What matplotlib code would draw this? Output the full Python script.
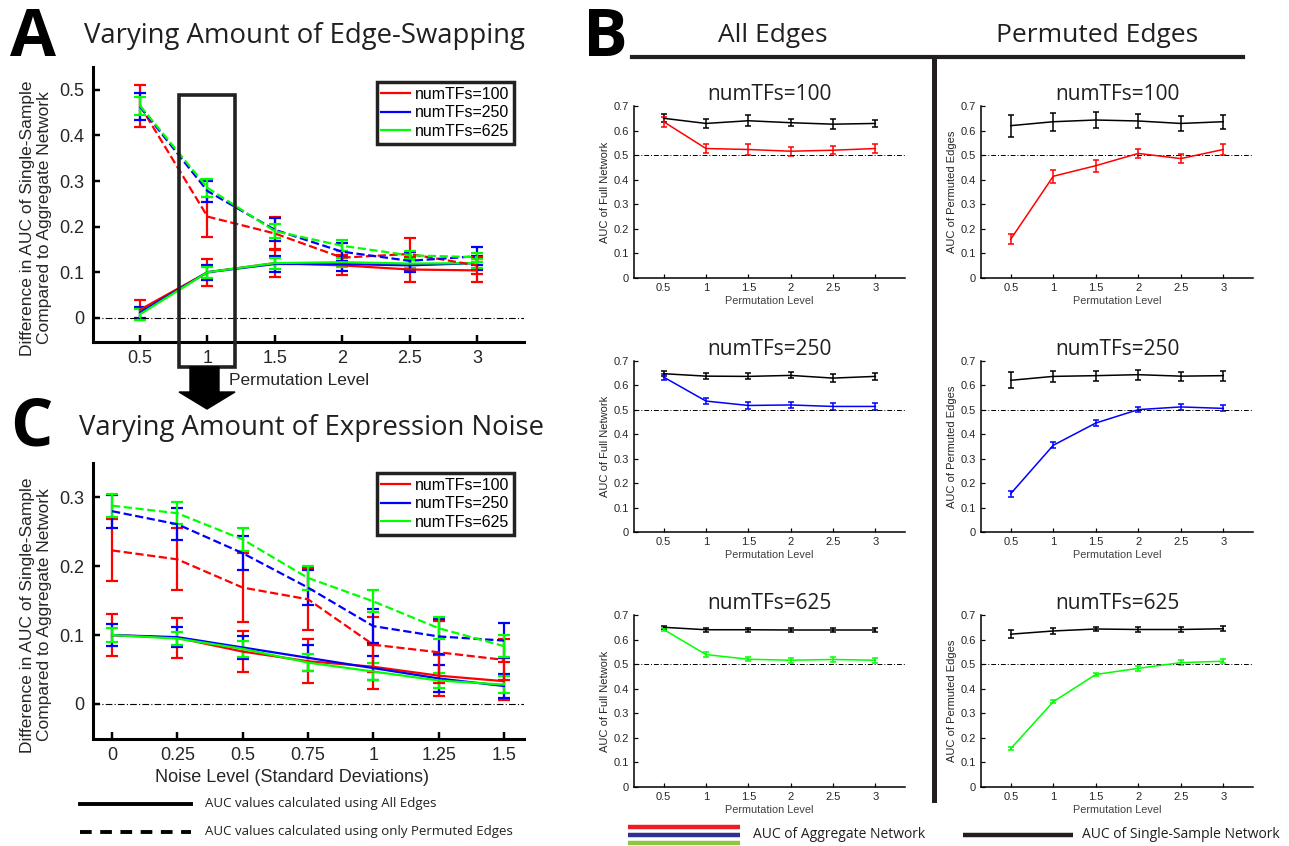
import numpy as np
import matplotlib
matplotlib.use("Agg")
import matplotlib.pyplot as plt
from matplotlib.patches import Rectangle, Polygon
from matplotlib.lines import Line2D

plt.rcParams['font.family'] = ['Liberation Sans', 'DejaVu Sans']

W, H = 1289, 846

# ---- data ----
perm_levels = [0.5, 1, 1.5, 2, 2.5, 3]
noise_levels = [0, 0.25, 0.5, 0.75, 1, 1.25, 1.5]
tf_labels = ['numTFs=100', 'numTFs=250', 'numTFs=625']

# panel A: difference in AUC vs permutation level
a_all_100 = [0.018, 0.100, 0.120, 0.115, 0.106, 0.104]
a_all_100_err = [0.022, 0.030, 0.030, 0.022, 0.028, 0.026]
a_all_250 = [0.012, 0.100, 0.118, 0.118, 0.115, 0.120]
a_all_250_err = [0.012, 0.016, 0.018, 0.015, 0.014, 0.015]
a_all_625 = [0.008, 0.100, 0.120, 0.122, 0.119, 0.120]
a_all_625_err = [0.012, 0.012, 0.012, 0.010, 0.010, 0.010]
a_perm_100 = [0.465, 0.222, 0.185, 0.132, 0.140, 0.115]
a_perm_100_err = [0.046, 0.044, 0.037, 0.015, 0.035, 0.018]
a_perm_250 = [0.463, 0.278, 0.193, 0.145, 0.125, 0.135]
a_perm_250_err = [0.030, 0.023, 0.025, 0.020, 0.020, 0.020]
a_perm_625 = [0.465, 0.285, 0.190, 0.158, 0.137, 0.133]
a_perm_625_err = [0.020, 0.020, 0.015, 0.012, 0.010, 0.010]

# panel C: difference in AUC vs noise level
c_all_100 = [0.100, 0.096, 0.076, 0.062, 0.054, 0.041, 0.033]
c_all_100_err = [0.030, 0.029, 0.030, 0.032, 0.032, 0.030, 0.028]
c_all_250 = [0.100, 0.097, 0.082, 0.067, 0.052, 0.037, 0.026]
c_all_250_err = [0.016, 0.015, 0.017, 0.019, 0.018, 0.019, 0.018]
c_all_625 = [0.100, 0.095, 0.080, 0.060, 0.047, 0.034, 0.028]
c_all_625_err = [0.010, 0.010, 0.012, 0.012, 0.012, 0.011, 0.012]
c_perm_100 = [0.223, 0.210, 0.169, 0.152, 0.086, 0.075, 0.064]
c_perm_100_err = [0.045, 0.045, 0.050, 0.045, 0.040, 0.045, 0.030]
c_perm_250 = [0.280, 0.261, 0.219, 0.169, 0.113, 0.098, 0.092]
c_perm_250_err = [0.024, 0.023, 0.025, 0.025, 0.025, 0.025, 0.025]
c_perm_625 = [0.288, 0.277, 0.239, 0.183, 0.149, 0.110, 0.084]
c_perm_625_err = [0.017, 0.016, 0.017, 0.017, 0.016, 0.016, 0.016]

# panel B: AUC values (single-sample = black, aggregate = coloured)
b_full_single_100 = [0.650, 0.629, 0.640, 0.632, 0.626, 0.629]
b_full_single_100_err = [0.017, 0.020, 0.022, 0.015, 0.020, 0.015]
b_full_agg_100 = [0.636, 0.527, 0.523, 0.516, 0.520, 0.527]
b_full_agg_100_err = [0.020, 0.020, 0.022, 0.018, 0.017, 0.020]
b_perm_single_100 = [0.620, 0.636, 0.643, 0.639, 0.629, 0.636]
b_perm_single_100_err = [0.045, 0.037, 0.033, 0.030, 0.030, 0.028]
b_perm_agg_100 = [0.158, 0.414, 0.457, 0.507, 0.486, 0.523]
b_perm_agg_100_err = [0.020, 0.027, 0.025, 0.020, 0.018, 0.022]

b_full_single_250 = [0.648, 0.638, 0.637, 0.641, 0.630, 0.637]
b_full_single_250_err = [0.010, 0.012, 0.012, 0.012, 0.015, 0.013]
b_full_agg_250 = [0.634, 0.536, 0.518, 0.520, 0.514, 0.514]
b_full_agg_250_err = [0.012, 0.013, 0.015, 0.012, 0.013, 0.013]
b_perm_single_250 = [0.621, 0.637, 0.640, 0.644, 0.638, 0.640]
b_perm_single_250_err = [0.032, 0.022, 0.020, 0.020, 0.018, 0.020]
b_perm_agg_250 = [0.157, 0.355, 0.446, 0.501, 0.512, 0.506]
b_perm_agg_250_err = [0.012, 0.013, 0.013, 0.010, 0.012, 0.012]

b_full_single_625 = [0.650, 0.640, 0.640, 0.639, 0.639, 0.639]
b_full_single_625_err = [0.007, 0.008, 0.008, 0.009, 0.009, 0.009]
b_full_agg_625 = [0.641, 0.539, 0.520, 0.516, 0.519, 0.516]
b_full_agg_625_err = [0.007, 0.009, 0.009, 0.010, 0.009, 0.010]
b_perm_single_625 = [0.622, 0.635, 0.643, 0.641, 0.641, 0.644]
b_perm_single_625_err = [0.017, 0.013, 0.010, 0.012, 0.010, 0.011]
b_perm_agg_625 = [0.156, 0.347, 0.458, 0.483, 0.506, 0.512]
b_perm_agg_625_err = [0.007, 0.007, 0.007, 0.009, 0.009, 0.009]

colors = ['#ff0000', '#0000ff', '#00ff00']
TITLE_FONT = ['Open Sans', 'DejaVu Sans']
TICK_COLOR = '#262626'


def px_axes(fig, l, t, r, b):
    return fig.add_axes([l / W, 1 - b / H, (r - l) / W, (b - t) / H])


def ftext(fig, x, y, s, **kw):
    kw.setdefault('ha', 'center')
    kw.setdefault('va', 'center')
    return fig.text(x / W, 1 - y / H, s, **kw)


def style_axes(ax, spine_lw, tick_size, tick_len, pad=3.5):
    for side in ['top', 'right']:
        ax.spines[side].set_visible(False)
    for side in ['left', 'bottom']:
        ax.spines[side].set_linewidth(spine_lw)
    ax.tick_params(direction='in', length=tick_len, width=spine_lw * 0.8,
                   labelsize=tick_size, labelcolor=TICK_COLOR, pad=pad)


def diff_panel(ax, x, series, xlim, ylim, yticks):
    for (vals, err, c, ls) in series:
        ax.errorbar(x, vals, yerr=err, color=c, ls=ls, lw=1.6, elinewidth=1.6,
                    capsize=4, capthick=1.6)
    ax.axhline(0, color='k', lw=0.8, dashes=(6, 2, 1, 2))
    ax.set_xlim(*xlim)
    ax.set_ylim(*ylim)
    ax.set_yticks(yticks)
    ax.set_yticklabels(['0'] + ['%.1f' % v for v in yticks[1:]])
    style_axes(ax, 2.2, 13, 5, pad=6)
    handles = [Line2D([], [], color=c, lw=1.6) for c in colors]
    leg = ax.legend(handles, tf_labels, loc='upper right', fontsize=11.5,
                    handlelength=1.8, handletextpad=0.3, labelspacing=0.22,
                    borderpad=0.3, fancybox=False, framealpha=1,
                    bbox_to_anchor=(1.0, 1.0), borderaxespad=0.0)
    leg.get_frame().set_edgecolor('#222222')
    leg.get_frame().set_linewidth(2.5)
    return leg


fig = plt.figure(figsize=(W / 100, H / 100), dpi=100)

# ---------------- panel A ----------------
axA = px_axes(fig, 93, 67, 524, 342)
seriesA = [
    (a_all_100, a_all_100_err, colors[0], '-'),
    (a_all_250, a_all_250_err, colors[1], '-'),
    (a_all_625, a_all_625_err, colors[2], '-'),
    (a_perm_100, a_perm_100_err, colors[0], '--'),
    (a_perm_250, a_perm_250_err, colors[1], '--'),
    (a_perm_625, a_perm_625_err, colors[2], '--'),
]
legA = diff_panel(axA, perm_levels, seriesA, (0.15, 3.35), (-0.053, 0.55),
                  [0, 0.1, 0.2, 0.3, 0.4, 0.5])
axA.set_xticks(perm_levels)
axA.set_xticklabels(['0.5', '1', '1.5', '2', '2.5', '3'])
legA.set_bbox_to_anchor((514 / W, 1 - 82 / H), transform=fig.transFigure)

ftext(fig, 10, 38, 'A', fontsize=48, fontweight='bold', family=TITLE_FONT, ha='left')
ftext(fig, 84, 36, 'Varying Amount of Edge-Swapping', fontsize=19.8, family=TITLE_FONT,
      ha='left', color='#231f20')
ylab = 'Difference in AUC of Single-Sample\nCompared to Aggregate Network'
ftext(fig, 36, 218, ylab, fontsize=12.5, rotation=90, color=TICK_COLOR)
ftext(fig, 299, 380, 'Permutation Level', fontsize=12.5, color=TICK_COLOR)

# highlight box around permutation level 1 and arrow to panel C
fig.add_artist(Rectangle((179 / W, 1 - 367 / H), 56 / W, 272 / H, fill=False,
                         lw=2.6, ec='#222222', transform=fig.transFigure))
arrow = [(190, 367), (219, 367), (219, 392), (235, 392), (207, 409), (179, 392), (190, 392)]
fig.add_artist(Polygon([(x / W, 1 - y / H) for x, y in arrow], closed=True,
                       fc='black', ec='black', transform=fig.transFigure))

# ---------------- panel C ----------------
axC = px_axes(fig, 93, 463, 524, 739)
seriesC = [
    (c_all_100, c_all_100_err, colors[0], '-'),
    (c_all_250, c_all_250_err, colors[1], '-'),
    (c_all_625, c_all_625_err, colors[2], '-'),
    (c_perm_100, c_perm_100_err, colors[0], '--'),
    (c_perm_250, c_perm_250_err, colors[1], '--'),
    (c_perm_625, c_perm_625_err, colors[2], '--'),
]
legC = diff_panel(axC, noise_levels, seriesC, (-0.073, 1.577), (-0.051, 0.35),
                  [0, 0.1, 0.2, 0.3])
axC.set_xticks(noise_levels)
axC.set_xticklabels(['0', '0.25', '0.5', '0.75', '1', '1.25', '1.5'])
legC.set_bbox_to_anchor((514 / W, 1 - 473 / H), transform=fig.transFigure)

ftext(fig, 10, 428, 'C', fontsize=48, fontweight='bold', family=TITLE_FONT, ha='left')
ftext(fig, 79, 428, 'Varying Amount of Expression Noise', fontsize=19.8, family=TITLE_FONT,
      ha='left', color='#231f20')
ftext(fig, 36, 615, ylab, fontsize=12.5, rotation=90, color=TICK_COLOR)
ftext(fig, 292, 777, 'Noise Level (Standard Deviations)', fontsize=13, color=TICK_COLOR)

fig.add_artist(Line2D([80 / W, 191 / W], [1 - 804 / H] * 2, color='black', lw=2.8))
fig.add_artist(Line2D([80 / W, 191 / W], [1 - 832 / H] * 2, color='black', lw=2.8,
                      dashes=(3, 2.2)))
ftext(fig, 205, 803, 'AUC values calculated using All Edges', fontsize=9.5,
      family=TITLE_FONT, ha='left', color='#231f20')
ftext(fig, 205, 831, 'AUC values calculated using only Permuted Edges', fontsize=9.5,
      family=TITLE_FONT, ha='left', color='#231f20')

# ---------------- panel B ----------------
ftext(fig, 583, 38, 'B', fontsize=48, fontweight='bold', family=TITLE_FONT, ha='left')
ftext(fig, 773, 36, 'All Edges', fontsize=19, family=TITLE_FONT, color='#231f20')
ftext(fig, 1097, 36, 'Permuted Edges', fontsize=19, family=TITLE_FONT, color='#231f20')
fig.add_artist(Line2D([632 / W, 1243 / W], [1 - 57 / H] * 2, color='#231f20', lw=3))
fig.add_artist(Line2D([934 / W, 934 / W], [1 - 57 / H, 1 - 800 / H], color='#231f20', lw=3.6))

rows = [(106, 278), (361, 532), (615, 787)]
cols = [(634, 905), (981, 1253)]
b_left = [
    (b_full_single_100, b_full_single_100_err, b_full_agg_100, b_full_agg_100_err),
    (b_full_single_250, b_full_single_250_err, b_full_agg_250, b_full_agg_250_err),
    (b_full_single_625, b_full_single_625_err, b_full_agg_625, b_full_agg_625_err),
]
b_right = [
    (b_perm_single_100, b_perm_single_100_err, b_perm_agg_100, b_perm_agg_100_err),
    (b_perm_single_250, b_perm_single_250_err, b_perm_agg_250, b_perm_agg_250_err),
    (b_perm_single_625, b_perm_single_625_err, b_perm_agg_625, b_perm_agg_625_err),
]
b_ylabels = ['AUC of Full Network', 'AUC of Permuted Edges']

for i, (t, b) in enumerate(rows):
    for j, (l, r) in enumerate(cols):
        ax = px_axes(fig, l, t, r, b)
        single, single_err, agg, agg_err = (b_left if j == 0 else b_right)[i]
        ax.errorbar(perm_levels, single, yerr=single_err, color='black', lw=1.1,
                    elinewidth=1.1, capsize=2, capthick=1.1)
        ax.errorbar(perm_levels, agg, yerr=agg_err, color=colors[i], lw=1.1,
                    elinewidth=1.1, capsize=2, capthick=1.1)
        ax.axhline(0.5, color='k', lw=0.7, dashes=(5, 2, 1, 2))
        ax.set_xlim(0.15, 3.35)
        ax.set_ylim(0, 0.7)
        ax.set_xticks(perm_levels)
        ax.set_xticklabels(['0.5', '1', '1.5', '2', '2.5', '3'])
        ax.set_yticks(np.arange(0, 0.71, 0.1))
        ax.set_yticklabels(['0', '0.1', '0.2', '0.3', '0.4', '0.5', '0.6', '0.7'])
        style_axes(ax, 1.1, 8, 3)
        ax.set_xlabel('Permutation Level', fontsize=7.8, color='#404040', labelpad=2)
        ax.set_ylabel(b_ylabels[j], fontsize=8, color='#262626', labelpad=3)
        ax.set_title(tf_labels[i], fontsize=15, family=TITLE_FONT, color='#231f20', pad=4)

# panel B key
for k, c in enumerate(['#ed1c24', '#2e3192', '#8dc63f']):
    y = 827 + 8 * k
    fig.add_artist(Line2D([628 / W, 740 / W], [1 - y / H] * 2, color=c, lw=3.2,
                          solid_capstyle='butt'))
ftext(fig, 753, 834, 'AUC of Aggregate Network', fontsize=10, family=TITLE_FONT,
      ha='left', color='#231f20')
fig.add_artist(Line2D([963 / W, 1073 / W], [1 - 835 / H] * 2, color='#231f20', lw=3.2,
                      solid_capstyle='butt'))
ftext(fig, 1082, 834, 'AUC of Single-Sample Network', fontsize=10, family=TITLE_FONT,
      ha='left', color='#231f20')

fig.savefig('out.png', dpi=100)
